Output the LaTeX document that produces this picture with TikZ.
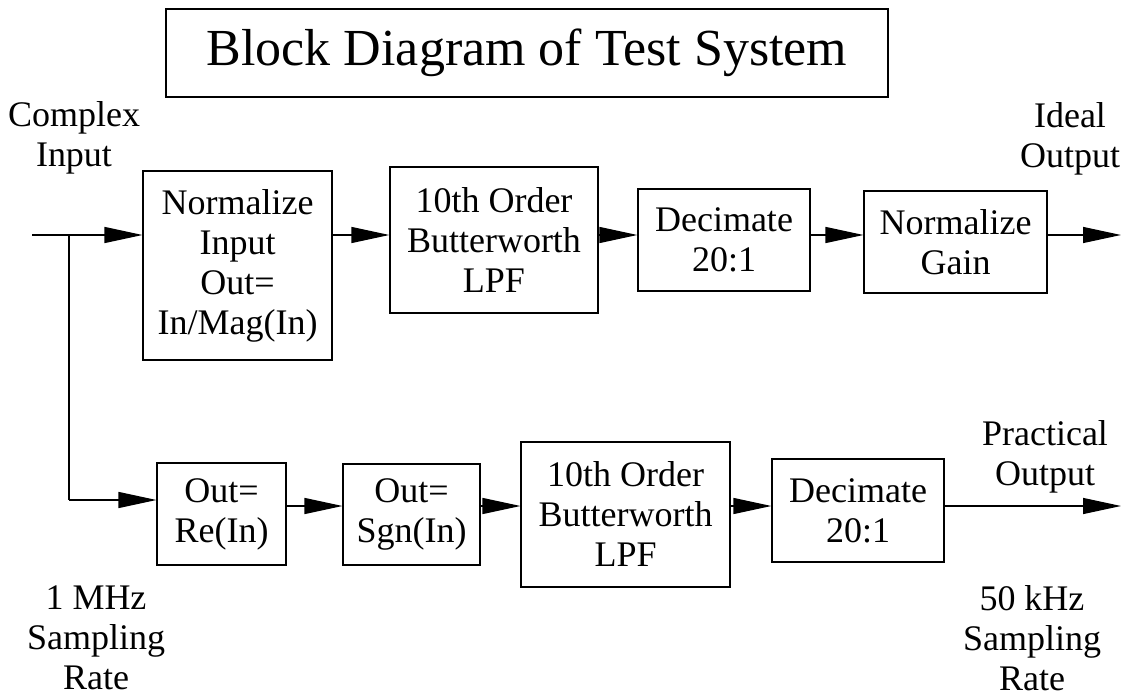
\documentclass[tikz,border=0pt]{standalone}
\usepackage{fontspec}
\setmainfont{Liberation Serif}
\usetikzlibrary{arrows.meta, positioning, calc}

\begin{document}
\begin{tikzpicture}[>={Triangle[length=0.95cm,width=0.4cm]}, line width=0.9pt,
  every node/.style={inner sep=0pt, font=\fontsize{25.6}{28.45}\selectfont},
  block/.style={draw, align=center}, lbl/.style={align=center}]
  \useasboundingbox (0,0) rectangle (28.325,-17.475);
  % --- title ---
  \node[draw, minimum width=18.05cm, minimum height=2.2cm, font=\fontsize{37}{40}\selectfont]
    (title) at (13.175,-1.325) {Block Diagram of Test System};
  % --- side labels ---
  \node[lbl] (cin)  at (1.85,-3.45)    {Complex\\Input};
  \node[lbl] (iout) at (26.75,-3.475)  {Ideal\\Output};
  \node[lbl] (pout) at (26.125,-11.41) {Practical\\Output};
  \node[lbl] (rin)  at (2.4,-15.95)    {1 MHz\\Sampling\\Rate};
  \node[lbl] (rout) at (25.8,-15.95)   {50 kHz\\Sampling\\Rate};
  % --- ideal path ---
  \node[block, minimum width=4.725cm, minimum height=4.725cm] (norm) at (5.94,-6.64)  {Normalize\\Input\\Out=\\In/Mag(In)};
  \node[block, minimum width=5.2cm,   minimum height=3.65cm]  (lpfa) at (12.35,-6.0) {10th Order\\Butterworth\\LPF};
  \node[block, minimum width=4.3cm,   minimum height=2.55cm]  (deca) at (18.1,-6.0)  {Decimate\\20:1};
  \node[block, minimum width=4.575cm, minimum height=2.55cm]  (gain) at (23.89,-6.05) {Normalize\\Gain};
  % --- practical path ---
  \node[block, minimum width=3.225cm, minimum height=2.55cm]  (real) at (5.54,-12.85)  {Out=\\Re(In)};
  \node[block, minimum width=3.425cm, minimum height=2.525cm] (sgn)  at (10.29,-12.86) {Out=\\Sgn(In)};
  \node[block, minimum width=5.225cm, minimum height=3.625cm] (lpfb) at (15.64,-12.86) {10th Order\\Butterworth\\LPF};
  \node[block, minimum width=4.3cm,   minimum height=2.575cm] (decb) at (21.45,-12.76) {Decimate\\20:1};
  % --- signal lines ---
  \coordinate (in)    at (0.8,-5.875);
  \coordinate (split) at (1.725,-5.875);
  \coordinate (turn)  at (1.725,-12.5);
  \coordinate (idl)   at (28.025,-5.875);
  \coordinate (prc)   at (28.025,-12.65);
  \draw[->] (in) -- (in -| norm.west);
  \draw (split) -- (turn);
  \draw[->] (turn) -- (turn -| real.west);
  \draw[->] (norm.east |- in) -- (lpfa.west |- in);
  \draw[->] (lpfa.east |- in) -- (deca.west |- in);
  \draw[->] (deca.east |- in) -- (gain.west |- in);
  \draw[->] (gain.east |- in) -- (idl);
  \draw[->] (real.east |- prc) -- (sgn.west |- prc);
  \draw[->] (sgn.east |- prc)  -- (lpfb.west |- prc);
  \draw[->] (lpfb.east |- prc) -- (decb.west |- prc);
  \draw[->] (decb.east |- prc) -- (prc);
\end{tikzpicture}
\end{document}
